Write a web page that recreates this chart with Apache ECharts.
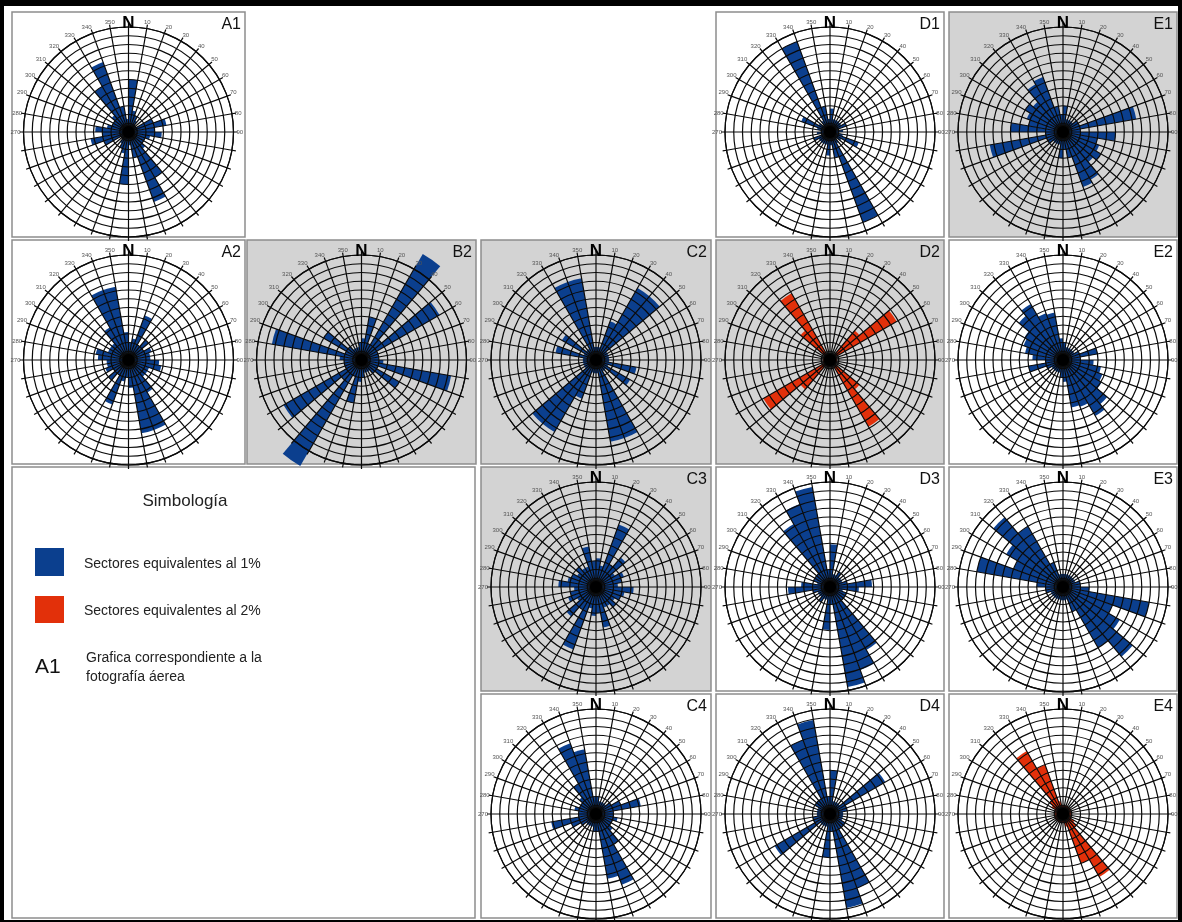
<!DOCTYPE html>
<html>
<head>
<meta charset="utf-8">
<script src="https://cdn.jsdelivr.net/npm/echarts@6/dist/echarts.min.js"></script>
<style>
html, body { margin: 0; padding: 0; background: #ffffff; }
#chart { width: 1182px; height: 922px; }
</style>
</head>
<body>
<div id="chart"></div>
<script>
// 10° direction sectors, clockwise from north
const sectors = [
  '0-10','10-20','20-30','30-40','40-50','50-60','60-70','70-80','80-90',
  '90-100','100-110','110-120','120-130','130-140','140-150','150-160','160-170','170-180',
  '180-190','190-200','200-210','210-220','220-230','230-240','240-250','250-260','260-270',
  '270-280','280-290','290-300','300-310','310-320','320-330','330-340','340-350','350-360'
];

// Angle labels printed round the upper half of each rose
const angleLabels = [270, 280, 290, 300, 310, 320, 330, 340, 350, 10, 20, 30, 40, 50, 60, 70, 80, 90];

// Number of 1% rings in each rose
const rings = 12;

// Sector lengths (in %), one value per 10° sector
const roseA1 = [6, 2.5, 2, 1.5, 1, 1, 3, 4.4, 3, 3.8, 2.5, 2, 2, 2.5, 6, 8.5, 3, 1.5,
                6, 2.5, 2, 1.5, 1, 1, 3, 4.4, 3, 3.8, 2.5, 2, 2, 2.5, 6, 8.5, 3, 1.5];
const roseD1 = [2.7, 1.5, 1.5, 1.5, 1.5, 1.5, 2, 1, 1.5, 1, 1.5, 3.5, 1.5, 1, 1.5, 11, 3, 1.5,
                2.7, 1.5, 1.5, 1.5, 1.5, 1.5, 2, 1, 1.5, 1, 1.5, 3.5, 1.5, 1, 1.5, 11, 3, 1.5];
const roseE1 = [3, 1.5, 1.5, 1.5, 1.5, 2, 2, 8.5, 2, 6, 4, 4.4, 5, 4.5, 6.3, 6.7, 3, 2,
                3, 1.5, 1.5, 1.5, 1.5, 2, 2, 8.5, 2, 6, 4, 4.4, 5, 4.5, 6.3, 6.7, 3, 2];
const roseA2 = [2, 2.5, 5.4, 2, 3, 2, 2.8, 2.5, 2.5, 3.5, 3.8, 2.5, 2.5, 2.5, 4.3, 8.5, 8.5, 3.2,
                2, 2.5, 5.4, 2, 3, 2, 2.8, 2.5, 2.5, 3.5, 3.8, 2.5, 2.5, 2.5, 4.3, 8.5, 8.5, 3.2];
const roseB2 = [2.5, 5, 2, 14, 3, 10.3, 2, 2, 2, 2.5, 10.4, 2, 5, 2, 1.5, 1.5, 1.5, 2,
                2.5, 5, 2, 14, 3, 10.3, 2, 2, 2, 2.5, 10.4, 2, 5, 2, 1.5, 1.5, 1.5, 2];
const roseC2 = [1.5, 1.5, 4.7, 9.5, 9.5, 1.5, 1.5, 1.5, 1.5, 1.5, 4.7, 1.5, 4.5, 1.5, 1.5, 9.5, 9.5, 1.5,
                1.5, 1.5, 4.7, 9.5, 9.5, 1.5, 1.5, 1.5, 1.5, 1.5, 4.7, 1.5, 4.5, 1.5, 1.5, 9.5, 9.5, 1.5];
const roseD2 = [0.8, 0.8, 0.8, 0.8, 4.4, 8.8, 0.8, 0.8, 0.8, 0.8, 0.8, 0.8, 0.8, 4.4, 8.8, 0.8, 0.8, 0.8,
                0.8, 0.8, 0.8, 0.8, 4.4, 8.8, 0.8, 0.8, 0.8, 0.8, 0.8, 0.8, 0.8, 4.4, 8.8, 0.8, 0.8, 0.8];
const roseE2 = [2, 1.5, 1.5, 1.5, 1.5, 1.5, 2, 4, 2, 3.5, 4.4, 4.8, 5.1, 6.6, 7.4, 5.7, 5.5, 2.5,
                2, 1.5, 1.5, 1.5, 1.5, 1.5, 2, 4, 2, 3.5, 4.4, 4.8, 5.1, 6.6, 7.4, 5.7, 5.5, 2.5];
const roseC3 = [3.3, 2.5, 7.6, 3, 4.4, 2.5, 3.4, 3, 2.5, 4.3, 3.3, 3, 2.5, 3, 2.5, 2.5, 4.7, 3,
                3.3, 2.5, 7.6, 3, 4.4, 2.5, 3.4, 3, 2.5, 4.3, 3.3, 3, 2.5, 3, 2.5, 2.5, 4.7, 3];
const roseD3 = [4.9, 1.5, 1.5, 2, 1.5, 1.5, 1.5, 2, 4.8, 3.3, 1.5, 2, 2, 2, 8.3, 10.1, 11.6, 2,
                4.9, 1.5, 1.5, 2, 1.5, 1.5, 1.5, 2, 4.8, 3.3, 1.5, 2, 2, 2, 8.3, 10.1, 11.6, 2];
const roseE3 = [1.5, 1.5, 1.5, 1.5, 1.5, 1.5, 1.5, 2, 2, 3, 10, 6, 7.5, 10.4, 8, 3, 1.5, 1.5,
                1.5, 1.5, 1.5, 1.5, 1.5, 1.5, 1.5, 2, 2, 3, 10, 6, 7.5, 10.4, 8, 3, 1.5, 1.5];
const roseC4 = [2, 1.5, 1.5, 1.5, 1.5, 2, 3, 5.2, 2, 2, 2.5, 2, 2, 2.5, 4, 8.6, 7.5, 2,
                2, 1.5, 1.5, 1.5, 1.5, 2, 3, 5.2, 2, 2, 2.5, 2, 2, 2.5, 4, 8.6, 7.5, 2];
const roseD4 = [5, 1.5, 1.5, 1.5, 1.5, 7.3, 2, 2, 1.5, 1.5, 1.5, 1.5, 2, 2, 2, 9, 10.9, 2,
                5, 1.5, 1.5, 1.5, 1.5, 7.3, 2, 2, 1.5, 1.5, 1.5, 1.5, 2, 2, 2, 9, 10.9, 2];
const roseE4 = [1, 1, 1, 1, 1, 1, 1, 1, 1, 1, 1, 1, 1.5, 2, 8.3, 6, 1.5, 1,
                1, 1, 1, 1, 1, 1, 1, 1, 1, 1, 1, 1, 1.5, 2, 8.3, 6, 1.5, 1];

const blue = '#0b3f8e';
const red = '#e2300a';

// Panel grid: column left edges / widths, row top edges / heights
const colX = [12, 247, 481, 716, 949];
const colW = [233, 229, 230, 228, 228];
const rowY = [12, 240, 467, 694];
const rowH = [225, 224, 224, 224];
const R = 105;
const shade = '#d3d3d3';

const panels = [
  { name: 'A1', col: 0, row: 0, shaded: false, color: blue, values: roseA1 },
  { name: 'D1', col: 3, row: 0, shaded: false, color: blue, values: roseD1 },
  { name: 'E1', col: 4, row: 0, shaded: true,  color: blue, values: roseE1 },
  { name: 'A2', col: 0, row: 1, shaded: false, color: blue, values: roseA2 },
  { name: 'B2', col: 1, row: 1, shaded: true,  color: blue, values: roseB2 },
  { name: 'C2', col: 2, row: 1, shaded: true,  color: blue, values: roseC2 },
  { name: 'D2', col: 3, row: 1, shaded: true,  color: red,  values: roseD2 },
  { name: 'E2', col: 4, row: 1, shaded: false, color: blue, values: roseE2 },
  { name: 'C3', col: 2, row: 2, shaded: true,  color: blue, values: roseC3 },
  { name: 'D3', col: 3, row: 2, shaded: false, color: blue, values: roseD3 },
  { name: 'E3', col: 4, row: 2, shaded: false, color: blue, values: roseE3 },
  { name: 'C4', col: 2, row: 3, shaded: false, color: blue, values: roseC4 },
  { name: 'D4', col: 3, row: 3, shaded: false, color: blue, values: roseD4 },
  { name: 'E4', col: 4, row: 3, shaded: false, color: red,  values: roseE4 }
];

const font = "'Liberation Sans', Arial, Helvetica, sans-serif";
const gridLine = { color: '#0a0a0a', width: 1.2 };

const polar = [], angleAxis = [], radiusAxis = [], series = [], graphics = [];

// outer frame
graphics.push({ type: 'rect', shape: { x: 0, y: 0, width: 1182, height: 922 }, style: { fill: '#000' }, z: 0 });
graphics.push({ type: 'rect', shape: { x: 4, y: 6, width: 1174, height: 914 }, style: { fill: '#fff' }, z: 0 });

panels.forEach((p, k) => {
  const x = colX[p.col], y = rowY[p.row], w = colW[p.col], h = rowH[p.row];
  const cx = x + w / 2, cy = y + 120;

  graphics.push({ type: 'rect', shape: { x: x, y: y, width: w, height: h },
    style: { fill: p.shaded ? shade : '#fff', stroke: '#8d8d8d', lineWidth: 1.5 }, z: 1 });
  graphics.push({ type: 'text', x: cx, y: y + 11, z: 50,
    style: { text: 'N', font: 'bold 17px ' + font, fill: '#000', align: 'center', verticalAlign: 'middle' } });
  graphics.push({ type: 'text', x: x + w - 4, y: y + 13, z: 50,
    style: { text: p.name, font: '16px ' + font, fill: '#111', align: 'right', verticalAlign: 'middle' } });

  // polar used by the sector bars
  polar.push({ center: [cx, cy], radius: R });
  angleAxis.push({ polarIndex: 2 * k, type: 'category', data: sectors, startAngle: 90, clockwise: true,
    boundaryGap: true, show: false });
  radiusAxis.push({ polarIndex: 2 * k, min: 0, max: rings, show: false });

  // polar used for the rings, radial lines and angle labels, drawn over the bars
  polar.push({ center: [cx, cy], radius: R });
  angleAxis.push({ polarIndex: 2 * k + 1, type: 'value', min: 0, max: 360, interval: 10,
    startAngle: 90, clockwise: true, z: 10,
    axisLine: { show: true, lineStyle: gridLine },
    axisTick: { show: true, inside: false, length: 4, lineStyle: gridLine },
    axisLabel: { show: true, margin: 3, fontSize: 6, color: '#555', fontFamily: font,
      formatter: v => angleLabels.indexOf(v) >= 0 ? String(v) : '' },
    splitLine: { show: true, lineStyle: gridLine } });
  radiusAxis.push({ polarIndex: 2 * k + 1, min: 0, max: rings, interval: 1, z: 10,
    axisLine: { show: false }, axisTick: { show: false }, axisLabel: { show: false },
    splitLine: { show: true, lineStyle: gridLine } });

  series.push({ type: 'bar', coordinateSystem: 'polar', polarIndex: 2 * k, data: p.values,
    barCategoryGap: '0%', clip: false, silent: true, z: 2, animation: false,
    itemStyle: { color: p.color } });

  // dark hub where the radial lines meet
  series.push({ type: 'pie', center: [cx, cy], radius: [0, 6], silent: true, z: 20, animation: false,
    label: { show: false }, labelLine: { show: false }, itemStyle: { color: '#000' },
    data: [{ value: 1 }] });
});

// legend panel
graphics.push({ type: 'rect', shape: { x: 12, y: 467, width: 463, height: 451 },
  style: { fill: '#fff', stroke: '#8d8d8d', lineWidth: 1.5 }, z: 1 });
graphics.push({ type: 'text', x: 185, y: 501, z: 50,
  style: { text: 'Simbología', font: '17px ' + font, fill: '#222', align: 'center', verticalAlign: 'middle' } });
graphics.push({ type: 'rect', shape: { x: 35, y: 548, width: 29, height: 28 }, style: { fill: blue }, z: 50 });
graphics.push({ type: 'rect', shape: { x: 35, y: 596, width: 29, height: 27 }, style: { fill: red }, z: 50 });
graphics.push({ type: 'text', x: 84, y: 564, z: 50,
  style: { text: 'Sectores equivalentes al 1%', font: '14px ' + font, fill: '#222', verticalAlign: 'middle' } });
graphics.push({ type: 'text', x: 84, y: 611, z: 50,
  style: { text: 'Sectores equivalentes al 2%', font: '14px ' + font, fill: '#222', verticalAlign: 'middle' } });
graphics.push({ type: 'text', x: 35, y: 667, z: 50,
  style: { text: 'A1', font: '21px ' + font, fill: '#111', verticalAlign: 'middle' } });
graphics.push({ type: 'text', x: 86, y: 658, z: 50,
  style: { text: 'Grafica correspondiente a la', font: '14px ' + font, fill: '#222', verticalAlign: 'middle' } });
graphics.push({ type: 'text', x: 86, y: 677, z: 50,
  style: { text: 'fotografía áerea', font: '14px ' + font, fill: '#222', verticalAlign: 'middle' } });

const chart = echarts.init(document.getElementById('chart'), null, { renderer: 'canvas' });
chart.setOption({
  animation: false,
  backgroundColor: '#fff',
  graphic: { elements: graphics },
  polar: polar,
  angleAxis: angleAxis,
  radiusAxis: radiusAxis,
  series: series
});
</script>
</body>
</html>
